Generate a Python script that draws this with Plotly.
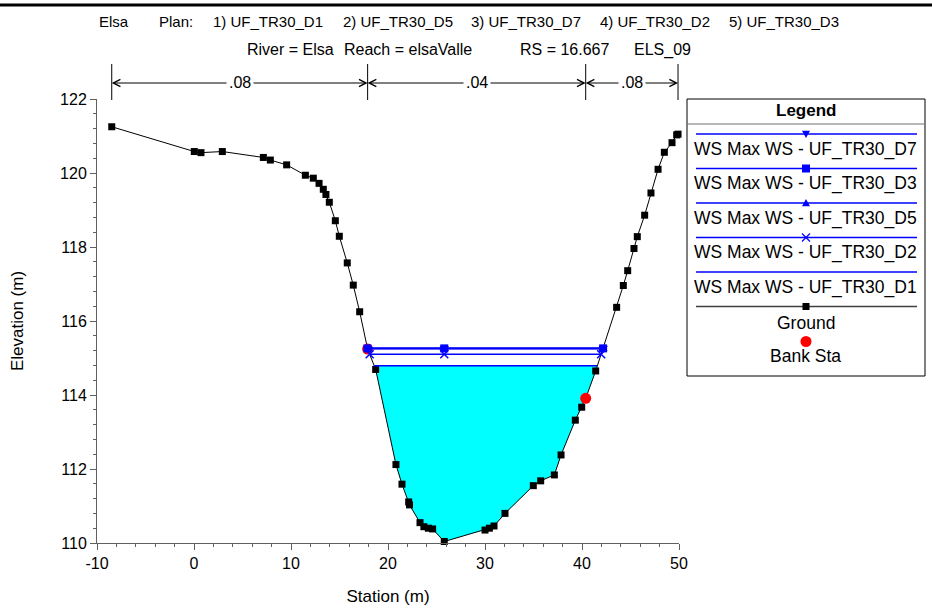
import numpy as np
import plotly.graph_objects as go

# ---------------- data ----------------
station = [-8.48, 0.03, 0.72, 2.92, 7.15, 7.87, 9.55, 11.48, 12.30, 12.89, 13.33, 13.60,
           13.95, 14.57, 14.98, 15.80, 16.42, 17.08, 17.90, 18.73, 20.82, 21.44, 22.13,
           22.22, 23.30, 23.70, 24.16, 24.60, 25.80, 30.00, 30.45, 30.93, 32.06, 34.98,
           35.74, 37.15, 37.84, 39.31, 39.97, 40.38, 41.41, 43.57, 44.26, 44.71, 45.36,
           45.70, 46.46, 47.11, 47.84, 48.49, 49.28, 49.76, 49.90]
elevation = [121.25, 120.58, 120.55, 120.58, 120.42, 120.35, 120.22, 119.94, 119.86, 119.72,
             119.56, 119.42, 119.21, 118.71, 118.29, 117.57, 116.97, 116.25, 115.24, 114.69,
             112.12, 111.59, 111.11, 111.03, 110.55, 110.44, 110.40, 110.38, 110.04, 110.35,
             110.40, 110.46, 110.80, 111.55, 111.68, 111.84, 112.38, 113.32, 113.67, 113.91,
             114.65, 116.37, 116.96, 117.36, 117.96, 118.28, 118.86, 119.46, 120.10, 120.56,
             120.82, 121.03, 121.05]

bank_station = [17.90, 40.38]
bank_elevation = [115.24, 113.91]

ws_names = ["WS Max WS - UF_TR30_D7", "WS Max WS - UF_TR30_D3", "WS Max WS - UF_TR30_D5",
            "WS Max WS - UF_TR30_D2", "WS Max WS - UF_TR30_D1"]
ws_elevation = [115.27, 115.26, 115.25, 115.10, 114.79]
ws_symbols = ["triangle-down", "square", "triangle-up", "x-thin-open", None]

n_break_station = [-8.48, 17.90, 40.38, 49.90]
n_values = [".08", ".04", ".08"]

header_items = ["Elsa", "Plan:", "1) UF_TR30_D1", "2) UF_TR30_D5", "3) UF_TR30_D7",
                "4) UF_TR30_D2", "5) UF_TR30_D3"]
subtitle_items = ["River = Elsa", "Reach = elsaValle", "RS = 16.667", "ELS_09"]

x_ticks = [-10, 0, 10, 20, 30, 40, 50]
x_tick_text = ["-10", "0", "10", "20", "30", "40", "50"]
y_ticks = [110, 112, 114, 116, 118, 120, 122]

# ---------------- layout helpers (pixel -> paper) ----------------
W, H = 932, 609
L, R, T, B = 97, 679, 99, 543
def xp(px):
    return (px - L) / (R - L)
def yp(py):
    return (B - py) / (B - T)

FONT = "Liberation Sans, Arial, sans-serif"
BLUE = "#0000FF"

st = np.array(station)
el = np.array(elevation)
i_min = int(np.argmin(el))


def crossing(ws):
    i = i_min
    while i > 0 and el[i - 1] < ws:
        i -= 1
    a, b = i - 1, i
    xl = st[a] + (ws - el[a]) * (st[b] - st[a]) / (el[b] - el[a])
    j = i_min
    while j < len(el) - 1 and el[j + 1] < ws:
        j += 1
    a2, b2 = j, j + 1
    xr = st[a2] + (ws - el[a2]) * (st[b2] - st[a2]) / (el[b2] - el[a2])
    return xl, xr, i, j


fig = go.Figure()

# water fill (lowest profile)
ws_fill = min(ws_elevation)
xl, xr, i0, j0 = crossing(ws_fill)
poly_x = [xl] + list(st[i0:j0 + 1]) + [xr, xl]
poly_y = [ws_fill] + list(el[i0:j0 + 1]) + [ws_fill, ws_fill]
fig.add_trace(go.Scatter(x=poly_x, y=poly_y, fill="toself", fillcolor="#00FFFF",
                         mode="none", showlegend=False, hoverinfo="skip"))

# ground
fig.add_trace(go.Scatter(x=station, y=elevation, mode="lines+markers",
                         line=dict(color="black", width=1),
                         marker=dict(symbol="square", size=7, color="black"),
                         cliponaxis=False, showlegend=False, name="Ground"))

# bank stations
fig.add_trace(go.Scatter(x=bank_station, y=bank_elevation, mode="markers",
                         marker=dict(symbol="circle", size=11, color="#FF0000"),
                         cliponaxis=False, showlegend=False, name="Bank Sta"))

# water surfaces (drawn bottom to top)
for name, ws, sym in reversed(list(zip(ws_names, ws_elevation, ws_symbols))):
    xl, xr, _, _ = crossing(ws)
    xs = [xl, st[i_min], xr]
    ys = [ws, ws, ws]
    if sym is None:
        fig.add_trace(go.Scatter(x=xs, y=ys, mode="lines", line=dict(color=BLUE, width=1.5),
                                 showlegend=False, name=name, cliponaxis=False))
    else:
        mk = dict(symbol=sym, size=8, color=BLUE)
        if sym == "x-thin-open":
            mk = dict(symbol=sym, size=8, color=BLUE, line=dict(color=BLUE, width=1.5))
        fig.add_trace(go.Scatter(x=xs, y=ys, mode="lines+markers",
                                 line=dict(color=BLUE, width=1.5), marker=mk,
                                 showlegend=False, name=name, cliponaxis=False))

shapes = []
annotations = []

# top frame line
shapes.append(dict(type="line", xref="paper", yref="paper", x0=xp(0), x1=xp(W),
                   y0=yp(5), y1=yp(5), line=dict(color="black", width=3)))

# header texts
header_x = [97, 157, 211, 341, 469, 598, 727]
for txt, px in zip(header_items, header_x):
    annotations.append(dict(text=txt, xref="paper", yref="paper", x=xp(px), y=yp(21),
                            xanchor="left", yanchor="middle", showarrow=False,
                            font=dict(family=FONT, size=15, color="black")))
sub_x = [245, 342, 518, 632]
for txt, px in zip(subtitle_items, sub_x):
    annotations.append(dict(text=txt, xref="paper", yref="paper", x=xp(px), y=yp(50),
                            xanchor="left", yanchor="middle", showarrow=False,
                            font=dict(family=FONT, size=16, color="black")))

# Manning's n bands
for s in n_break_station:
    shapes.append(dict(type="line", xref="x", yref="paper", x0=s, x1=s,
                       y0=yp(64), y1=yp(100), line=dict(color="black", width=1)))
for k, nv in enumerate(n_values):
    a, b = n_break_station[k], n_break_station[k + 1]
    mid = (a + b) / 2
    for end in (a, b):
        annotations.append(dict(text="", xref="x", yref="paper", x=end, y=yp(83),
                                axref="x", ax=mid, ayref="pixel", ay=0, showarrow=True,
                                arrowhead=5, arrowsize=1.4, arrowwidth=1, arrowcolor="black",
                                standoff=0, startstandoff=0))
    annotations.append(dict(text=nv, xref="x", yref="paper", x=mid, y=yp(83),
                            xanchor="center", yanchor="middle",
                            showarrow=False, bgcolor="white", borderpad=2,
                            font=dict(family=FONT, size=16, color="black")))

# legend box
LX0, LX1, LY0, LY1 = 687, 925, 99, 376
shapes.append(dict(type="rect", xref="paper", yref="paper", x0=xp(LX0), x1=xp(LX1),
                   y0=yp(LY0), y1=yp(LY1), line=dict(color="black", width=1),
                   fillcolor="white", layer="above"))
shapes.append(dict(type="line", xref="paper", yref="paper", x0=xp(LX0), x1=xp(LX1),
                   y0=yp(124), y1=yp(124), line=dict(color="#707070", width=1)))
annotations.append(dict(text="<b>Legend</b>", xref="paper", yref="paper", x=xp(806), y=yp(111),
                        showarrow=False, xanchor="center", yanchor="middle",
                        font=dict(family=FONT, size=17, color="black")))

CX = 806
line_y = [134, 168.5, 203, 237.5, 272]
text_y = [149, 183.5, 218, 252.5, 287]


def marker_shape(sym, cx, cy, s, color):
    out = []
    hx, hy = s / 2 / (R - L), s / 2 / (B - T)
    X, Y = xp(cx), yp(cy)
    if sym == "square":
        out.append(dict(type="rect", xref="paper", yref="paper", x0=X - hx, x1=X + hx,
                        y0=Y - hy, y1=Y + hy, line=dict(width=0), fillcolor=color, layer="above"))
    elif sym == "triangle-down":
        p = f"M {X-hx},{Y+hy*0.8} L {X+hx},{Y+hy*0.8} L {X},{Y-hy} Z"
        out.append(dict(type="path", xref="paper", yref="paper", path=p,
                        line=dict(width=0), fillcolor=color, layer="above"))
    elif sym == "triangle-up":
        p = f"M {X-hx},{Y-hy*0.8} L {X+hx},{Y-hy*0.8} L {X},{Y+hy} Z"
        out.append(dict(type="path", xref="paper", yref="paper", path=p,
                        line=dict(width=0), fillcolor=color, layer="above"))
    elif sym == "x-thin-open":
        for sgn in (1, -1):
            out.append(dict(type="line", xref="paper", yref="paper", x0=X - hx, x1=X + hx,
                            y0=Y - sgn * hy, y1=Y + sgn * hy, line=dict(color=color, width=1.3),
                            layer="above"))
    elif sym == "circle":
        out.append(dict(type="circle", xref="paper", yref="paper", x0=X - hx, x1=X + hx,
                        y0=Y - hy, y1=Y + hy, line=dict(width=0), fillcolor=color, layer="above"))
    return out


for name, sym, ly, ty in zip(ws_names, ws_symbols, line_y, text_y):
    shapes.append(dict(type="line", xref="paper", yref="paper", x0=xp(696), x1=xp(917),
                       y0=yp(ly), y1=yp(ly), line=dict(color=BLUE, width=1.5), layer="above"))
    if sym is not None:
        shapes += marker_shape(sym, CX, ly, 8, BLUE)
    annotations.append(dict(text=name, xref="paper", yref="paper", x=xp(CX), y=yp(ty),
                            showarrow=False, xanchor="center", yanchor="middle",
                            font=dict(family=FONT, size=17.5, color="black")))

# ground legend
shapes.append(dict(type="line", xref="paper", yref="paper", x0=xp(696), x1=xp(917),
                   y0=yp(306.5), y1=yp(306.5), line=dict(color="#404040", width=1.5), layer="above"))
shapes += marker_shape("square", CX, 306.5, 7, "black")
annotations.append(dict(text="Ground", xref="paper", yref="paper", x=xp(CX), y=yp(322.5),
                        showarrow=False, xanchor="center", yanchor="middle",
                        font=dict(family=FONT, size=17.5, color="black")))
shapes += marker_shape("circle", CX, 341.5, 11, "#FF0000")
annotations.append(dict(text="Bank Sta", xref="paper", yref="paper", x=xp(CX), y=yp(356),
                        showarrow=False, xanchor="center", yanchor="middle",
                        font=dict(family=FONT, size=17.5, color="black")))

AX = "#606060"
fig.update_layout(
    width=W, height=H,
    margin=dict(l=L, r=W - R, t=T, b=H - B, pad=0, autoexpand=False),
    paper_bgcolor="white", plot_bgcolor="white",
    font=dict(family=FONT, size=16, color="black"),
    showlegend=False,
    shapes=shapes, annotations=annotations,
    xaxis=dict(range=[-10, 50], tickvals=x_ticks, ticktext=x_tick_text, ticks="outside",
               ticklen=6, tickwidth=1, automargin=False,
               tickcolor=AX, showline=True, linecolor=AX, linewidth=1, showgrid=False,
               zeroline=False, tickfont=dict(size=16),
               minor=dict(dtick=2, ticks="outside", ticklen=3, tickcolor=AX, showgrid=False),
               title=dict(text="Station (m)", font=dict(size=17), standoff=18)),
    yaxis=dict(range=[110, 122], tickvals=y_ticks, ticks="outside", ticklen=6, tickwidth=1,
               tickcolor=AX, showline=True, linecolor=AX, linewidth=1, showgrid=False,
               zeroline=False, tickfont=dict(size=16), automargin=False,
               minor=dict(dtick=0.4, tick0=110, ticks="outside", ticklen=3, tickcolor=AX,
                          showgrid=False),
               title=dict(text="Elevation (m)", font=dict(size=17), standoff=32)),
)

fig.write_html("out.html", config={"displayModeBar": False},
               post_script="document.body.style.margin='0';")
